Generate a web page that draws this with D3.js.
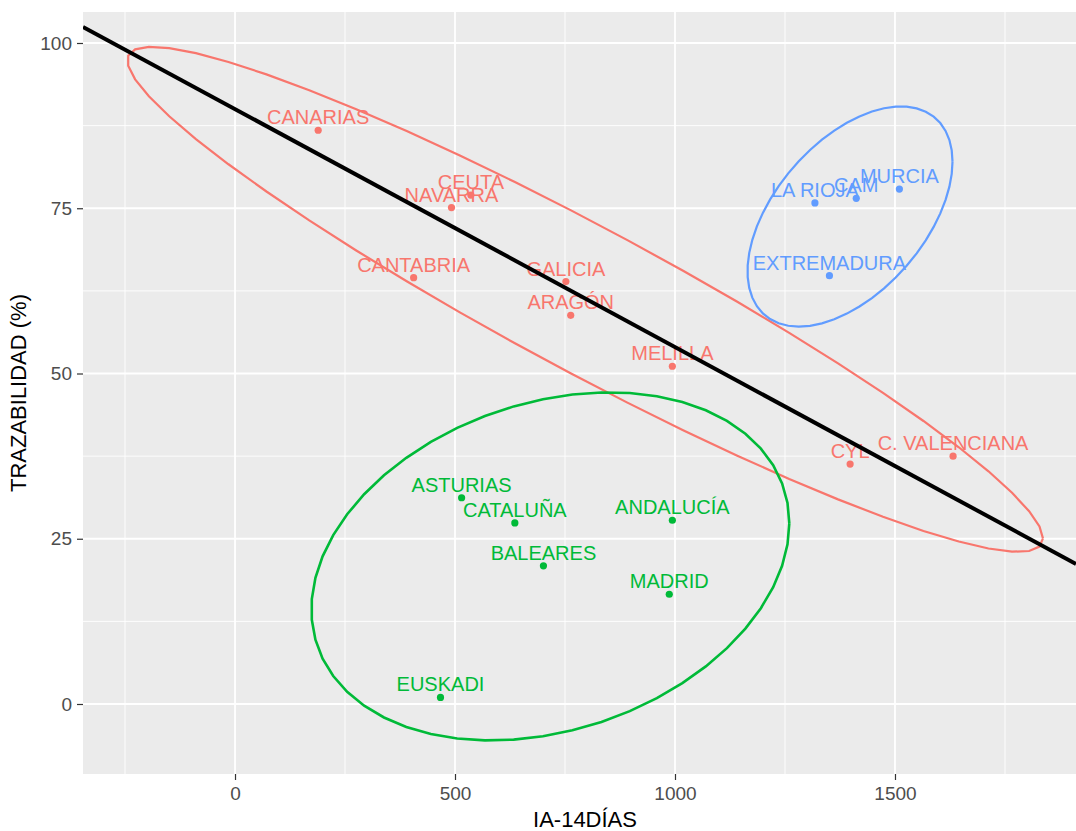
<!DOCTYPE html>
<html>
<head>
<meta charset="utf-8">
<script src="https://cdn.jsdelivr.net/npm/d3@7"></script>
<style>
  html, body { margin: 0; padding: 0; background: #ffffff; }
  svg { display: block; }
  text { font-family: "Liberation Sans", Arial, sans-serif; }
</style>
</head>
<body>
<svg id="chart" width="1076" height="831"></svg>
<script>
// ---- data ----
const regions = ["CANARIAS","CEUTA","NAVARRA","CANTABRIA","GALICIA","ARAGÓN","MELILLA","CYL","C. VALENCIANA",
                 "LA RIOJA","CAM","MURCIA","EXTREMADURA",
                 "ASTURIAS","CATALUÑA","ANDALUCÍA","BALEARES","MADRID","EUSKADI"];
const ia14 = [189, 536, 492, 406, 752, 763, 994, 1398, 1632,
              1318, 1412, 1510, 1351,
              515, 636, 994, 701, 987, 467];
const trazabilidad = [86.8, 77.0, 75.1, 64.5, 63.9, 58.8, 51.1, 36.3, 37.5,
                      75.8, 76.5, 77.9, 64.8,
                      31.2, 27.4, 27.8, 20.9, 16.6, 1.0];
const cluster = [1,1,1,1,1,1,1,1,1, 3,3,3,3, 2,2,2,2,2,2];
const clusterIds = [1, 2, 3];
const clusterColors = ["#F8766D", "#00BA38", "#619CFF"];
const xTicks = [0, 500, 1000, 1500];
const yTicks = [0, 25, 50, 75, 100];
const xMinor = [-250, 250, 750, 1250, 1750];
const yMinor = [12.5, 37.5, 62.5, 87.5];
const lineIntercept = 90;
const lineSlope = -0.036;
const ellipseLevel = 0.85;
const labelNudge = 2;
const xTitle = "IA-14DÍAS";
const yTitle = "TRAZABILIDAD (%)";

// ---- layout ----
const W = 1076, H = 831;
const panel = { left: 83, top: 12, right: 1076, bottom: 774 };
const svg = d3.select("#chart");
svg.append("rect").attr("width", W).attr("height", H).attr("fill", "#ffffff");

const x = d3.scaleLinear().domain([-345.5, 1911.4]).range([panel.left, panel.right]);
const y = d3.scaleLinear().domain([-10.59, 104.69]).range([panel.bottom, panel.top]);
const color = d3.scaleOrdinal().domain(clusterIds).range(clusterColors);

svg.append("defs").append("clipPath").attr("id", "pclip")
  .append("rect").attr("x", panel.left).attr("y", panel.top)
  .attr("width", panel.right - panel.left).attr("height", panel.bottom - panel.top);

// panel background
svg.append("rect").attr("x", panel.left).attr("y", panel.top)
  .attr("width", panel.right - panel.left).attr("height", panel.bottom - panel.top)
  .attr("fill", "#EBEBEB");

const grid = svg.append("g");
grid.selectAll(".xminor").data(xMinor).join("line")
  .attr("x1", d => x(d)).attr("x2", d => x(d)).attr("y1", panel.top).attr("y2", panel.bottom)
  .attr("stroke", "#fff").attr("stroke-width", 0.9);
grid.selectAll(".yminor").data(yMinor).join("line")
  .attr("y1", d => y(d)).attr("y2", d => y(d)).attr("x1", panel.left).attr("x2", panel.right)
  .attr("stroke", "#fff").attr("stroke-width", 0.9);
grid.selectAll(".xmajor").data(xTicks).join("line")
  .attr("x1", d => x(d)).attr("x2", d => x(d)).attr("y1", panel.top).attr("y2", panel.bottom)
  .attr("stroke", "#fff").attr("stroke-width", 1.8);
grid.selectAll(".ymajor").data(yTicks).join("line")
  .attr("y1", d => y(d)).attr("y2", d => y(d)).attr("x1", panel.left).attr("x2", panel.right)
  .attr("stroke", "#fff").attr("stroke-width", 1.8);

// axes
const xAxis = d3.axisBottom(x).tickValues(xTicks).tickSize(6).tickPadding(7).tickFormat(d3.format("d"));
const gx = svg.append("g").attr("transform", `translate(0,${panel.bottom})`).call(xAxis);
gx.select(".domain").remove();
gx.selectAll(".tick line").attr("stroke", "#333333").attr("stroke-width", 1.2);
gx.selectAll(".tick text").attr("fill", "#4D4D4D").style("font-size", "19px")
  .style("font-family", "'Liberation Sans', Arial, sans-serif");

const yAxis = d3.axisLeft(y).tickValues(yTicks).tickSize(6).tickPadding(5).tickFormat(d3.format("d"));
const gy = svg.append("g").attr("transform", `translate(${panel.left},0)`).call(yAxis);
gy.select(".domain").remove();
gy.selectAll(".tick line").attr("stroke", "#333333").attr("stroke-width", 1.2);
gy.selectAll(".tick text").attr("fill", "#4D4D4D").style("font-size", "19px")
  .style("font-family", "'Liberation Sans', Arial, sans-serif");

// axis titles
svg.append("text").attr("x", 585).attr("y", 827).attr("text-anchor", "middle")
  .attr("fill", "#000").style("font-size", "22px").text(xTitle);
svg.append("text").attr("transform", `translate(26,${(panel.top + panel.bottom) / 2}) rotate(-90)`)
  .attr("text-anchor", "middle").attr("fill", "#000").style("font-size", "22px").text(yTitle);

// data
const data = regions.map((r, i) => ({ name: r, x: ia14[i], y: trazabilidad[i], g: cluster[i] }));

const plot = svg.append("g").attr("clip-path", "url(#pclip)");

// points
plot.selectAll("circle.pt").data(data).join("circle")
  .attr("cx", d => x(d.x)).attr("cy", d => y(d.y)).attr("r", 3.6)
  .attr("fill", d => color(d.g));

// labels
plot.selectAll("text.lbl").data(data).join("text")
  .attr("x", d => x(d.x)).attr("y", d => y(d.y + labelNudge)).attr("dy", "0.36em")
  .attr("text-anchor", "middle").attr("fill", d => color(d.g)).style("font-size", "20px")
  .text(d => d.name);

// stat_ellipse (type "norm"): sample covariance, radius from the F quantile
function ellipsePoints(pts, level, segments = 51) {
  const n = pts.length;
  const center = [d3.mean(pts, d => d[0]), d3.mean(pts, d => d[1])];
  let a = 0, b = 0, c = 0;
  pts.forEach(d => {
    const u = d[0] - center[0], v = d[1] - center[1];
    a += u * u; b += u * v; c += v * v;
  });
  a /= (n - 1); b /= (n - 1); c /= (n - 1);
  const dfd = n - 1;
  const qf = (dfd / 2) * (Math.pow(1 - level, -2 / dfd) - 1);  // qf(level, 2, dfd)
  const radius = Math.sqrt(2 * qf);
  const r11 = Math.sqrt(a), r12 = b / r11, r22 = Math.sqrt(c - r12 * r12);
  return d3.range(segments + 1).map(k => {
    const t = k * 2 * Math.PI / segments;
    const ct = Math.cos(t), st = Math.sin(t);
    return [center[0] + radius * ct * r11, center[1] + radius * (ct * r12 + st * r22)];
  });
}
const lineGen = d3.line().x(d => x(d[0])).y(d => y(d[1]));
clusterIds.forEach(g => {
  const pts = data.filter(d => d.g === g).map(d => [d.x, d.y]);
  plot.append("path").attr("d", lineGen(ellipsePoints(pts, ellipseLevel)))
    .attr("fill", "none").attr("stroke", color(g)).attr("stroke-width", g === 2 ? 2.6 : 2.2);
});

// reference line (abline)
const xd = x.domain();
plot.append("line")
  .attr("x1", x(xd[0])).attr("y1", y(lineIntercept + lineSlope * xd[0]))
  .attr("x2", x(xd[1])).attr("y2", y(lineIntercept + lineSlope * xd[1]))
  .attr("stroke", "#000").attr("stroke-width", 4);
</script>
</body>
</html>
